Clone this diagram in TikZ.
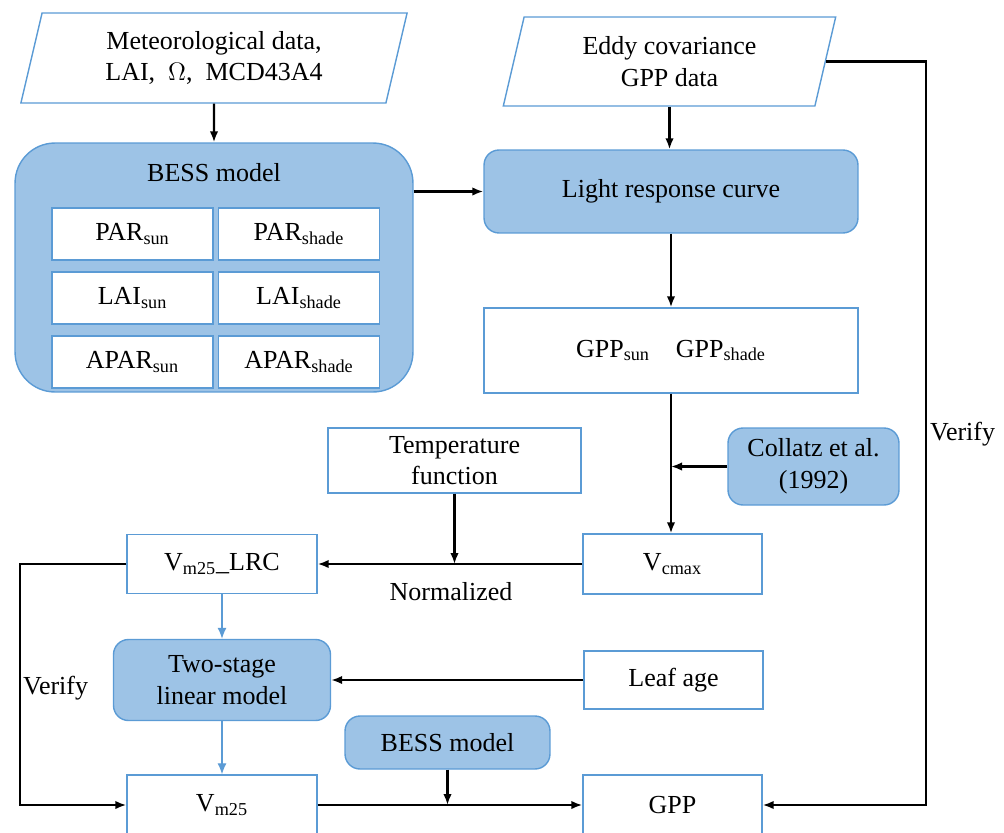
\documentclass[tikz,border=0pt]{standalone}
\usepackage{fontspec}
\setmainfont{Liberation Serif}
\usetikzlibrary{shapes.geometric,arrows.meta}
\definecolor{boxblue}{RGB}{157,195,230}
\definecolor{edgeblue}{RGB}{91,155,213}

\begin{document}
\begin{tikzpicture}[x=0.02cm,y=-0.02cm,
  every node/.style={font=\fontsize{14.8}{18}\selectfont, align=center},
  databox/.style={trapezium, trapezium stretches=true, trapezium left angle=76, trapezium right angle=104, draw=edgeblue, line width=0.8pt, fill=white, inner sep=0pt},
  plainbox/.style={rectangle, draw=edgeblue, line width=0.8pt, fill=white, inner sep=0pt},
  modelbox/.style={rectangle, rounded corners=0.3cm, draw=edgeblue, line width=0.8pt, fill=boxblue, inner sep=0pt},
  flow/.style={-{Latex[length=2.2mm,width=1.7mm]}, line width=1.2pt, black},
  blueflow/.style={-{Latex[length=2.2mm,width=1.8mm]}, line width=0.7pt, edgeblue}]
  % Frame
  \useasboundingbox (0,0) rectangle (1004,832);
  \clip (0,0) rectangle (1004,832);
  % Inputs
  \node[databox, minimum width=7.74cm, minimum height=1.8cm] (met) at (214,58) {Meteorological data,\\LAI,\ \ $\Omega$,\ \ MCD43A4};
  \node[databox, minimum width=6.66cm, minimum height=1.78cm] (eddy) at (669.5,61.5) {Eddy covariance\\GPP data};
  % BESS model with its outputs
  \node[modelbox, rounded corners=0.8cm, minimum width=7.96cm, minimum height=4.98cm] (bess) at (214,267.5) {};
  \node (besstitle) at (214,173) {BESS model};
  \foreach \lbl [count=\i from 0] in {PAR,LAI,APAR} \foreach \side/\cx in {sun/132.5,shade/299}{
    \node[plainbox, minimum width=3.22cm, minimum height=1.04cm] (\lbl\side) at (\cx,234+64*\i) {\lbl\textsubscript{\side}};}
  % Right column
  \node[modelbox, minimum width=7.48cm, minimum height=1.66cm] (lrc) at (671,191.5) {Light response curve};
  \node[plainbox, minimum width=7.48cm, minimum height=1.7cm] (gppss) at (671,350.5) {GPP\textsubscript{sun}\quad GPP\textsubscript{shade}};
  \node[modelbox, minimum width=3.42cm, minimum height=1.54cm] (coll) at (813.5,466.5) {Collatz et al.\\(1992)};
  \node[plainbox, minimum width=3.58cm, minimum height=1.2cm] (vcmax) at (672.5,564) {V\textsubscript{cmax}};
  \node[plainbox, minimum width=5.06cm, minimum height=1.3cm] (temp) at (454.5,460.5) {Temperature\\function};
  \node[plainbox, minimum width=3.58cm, minimum height=1.16cm] (leaf) at (673.5,680) {Leaf age};
  \node[plainbox, minimum width=3.58cm, minimum height=1.2cm] (gpp) at (672.5,805) {GPP};
  % Left column
  \node[plainbox, minimum width=3.8cm, minimum height=1.18cm] (vlrc) at (222,564) {V\textsubscript{m25}\_LRC};
  \node[modelbox, minimum width=4.34cm, minimum height=1.62cm] (two) at (222,680) {Two-stage\\linear model};
  \node[plainbox, minimum width=3.8cm, minimum height=1.2cm] (vm25) at (222,805) {V\textsubscript{m25}};
  \node[modelbox, minimum width=4.1cm, minimum height=1.06cm] (bess2) at (447.5,742.5) {BESS model};
  % Connectors
  \coordinate (vr) at (926,0);
  \coordinate (vl) at (20,0);
  \draw[flow] (met.south) -- (bess.north);
  \draw[flow] (bess.east |- lrc) -- (lrc.west);
  \draw[flow] (eddy.south) -- (eddy.south |- lrc.north);
  \draw[flow] (lrc.south) -- (gppss.north);
  \draw[flow] (gppss.south) -- (gppss.south |- vcmax.north);
  \draw[flow] (coll.west) -- (coll.west -| gppss.south);
  \draw[flow] (vcmax.west) -- (vlrc.east);
  \draw[flow] (temp.south) -- (temp.south |- vcmax.west);
  \draw[blueflow] (vlrc.south) -- (two.north);
  \draw[flow] (leaf.west) -- (two.east);
  \draw[blueflow] (two.south) -- (vm25.north);
  \draw[flow] (bess2.south) -- (bess2.south |- gpp.west);
  \draw[flow] (vm25.east) -- (gpp.west);
  \draw[flow] (eddy.east) -- (eddy.east -| vr) |- (gpp.east);
  \draw[flow] (vlrc.west) -- (vlrc.west -| vl) |- (vm25.west);
  % Labels
  \node (norm) at (451,592) {Normalized};
  \node[anchor=west, inner sep=1pt] (verr) at (928,434) {Verify};
  \node[anchor=west, inner sep=1pt] (verl) at (21,688) {Verify};
\end{tikzpicture}
\end{document}
